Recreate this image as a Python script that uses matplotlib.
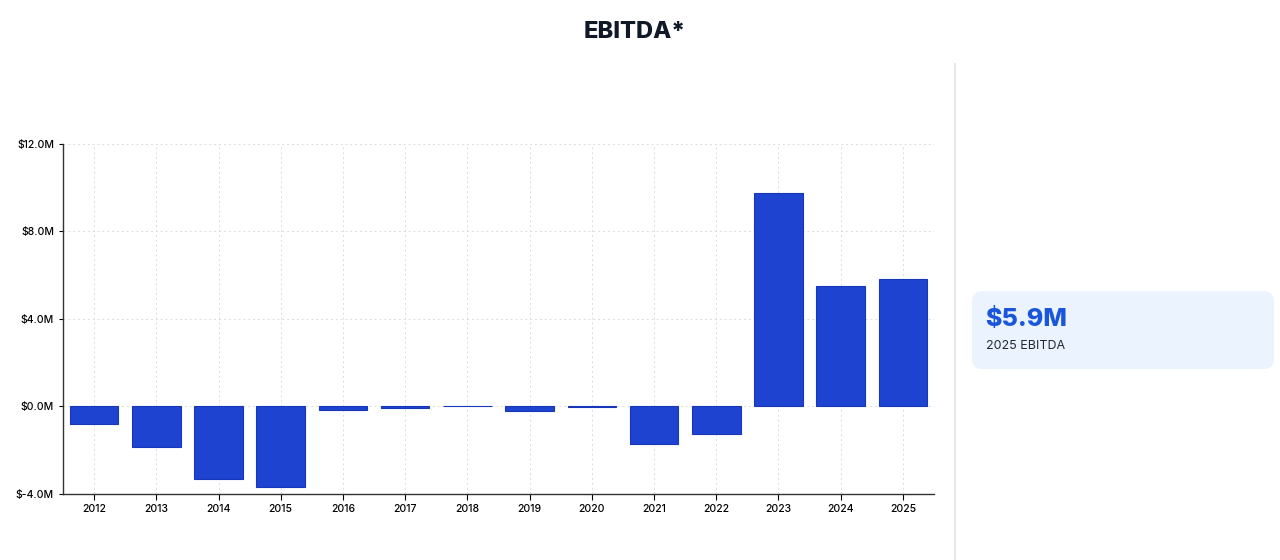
import matplotlib.pyplot as plt
from matplotlib.patches import FancyBboxPatch
from matplotlib.ticker import FuncFormatter

plt.rcParams['font.family'] = ['Inter', 'DejaVu Sans']

# EBITDA by year, $M
years = ['2012', '2013', '2014', '2015', '2016', '2017', '2018',
         '2019', '2020', '2021', '2022', '2023', '2024', '2025']
ebitda = [-0.82, -1.85, -3.33, -3.7, -0.15, -0.07, 0.01,
          -0.2, -0.02, -1.7, -1.28, 9.78, 5.5, 5.85]

card_value = '$5.9M'
card_label = '2025 EBITDA'

fig = plt.figure(figsize=(12.8, 5.6), dpi=100)
fig.patch.set_facecolor('white')

ax = fig.add_axes([0.0492, 0.1179, 0.6805, 0.625])
x = range(len(years))
ax.bar(x, ebitda, width=0.78, color='#1d43d0', edgecolor='#1737b8', linewidth=0.8, zorder=3)

ax.set_xlim(-0.5, len(years) - 0.5)
ax.set_ylim(-4, 12)
ax.set_yticks([-4, 0, 4, 8, 12])
ax.yaxis.set_major_formatter(FuncFormatter(lambda v, p: f'${v:.1f}M'))
ax.set_xticks(list(x))
ax.set_xticklabels(years)
ax.tick_params(axis='both', labelsize=7.5, colors='#000000', length=3, width=0.8)
ax.tick_params(axis='x', length=4)
for lbl in ax.get_xticklabels() + ax.get_yticklabels():
    lbl.set_fontweight('medium')

ax.grid(True, color='#dcdcdc', linestyle=(0, (2, 3)), linewidth=0.7, zorder=0)
for s in ['top', 'right']:
    ax.spines[s].set_visible(False)
for s in ['left', 'bottom']:
    ax.spines[s].set_color('#333333')
    ax.spines[s].set_linewidth(1.0)

fig.text(0.496, 0.943, 'EBITDA*', ha='center', va='center',
         fontsize=17, fontweight='heavy', color='#111827')

# side panel divider
fig.add_artist(plt.Line2D([0.746, 0.746], [0.0, 0.885], color='#e5e7eb', linewidth=1.5))

# summary card
card = FancyBboxPatch((0.7594, 0.341), 0.2359, 0.139,
                      boxstyle='round,pad=0,rounding_size=0.008',
                      transform=fig.transFigure, facecolor='#ebf3fe',
                      edgecolor='none', mutation_aspect=2.29)
fig.add_artist(card)
fig.text(0.770, 0.429, card_value, ha='left', va='center',
         fontsize=18, fontweight='heavy', color='#1a56db')
fig.text(0.770, 0.382, card_label, ha='left', va='center',
         fontsize=9, color='#1f2937')

fig.savefig('out.png', dpi=100)
